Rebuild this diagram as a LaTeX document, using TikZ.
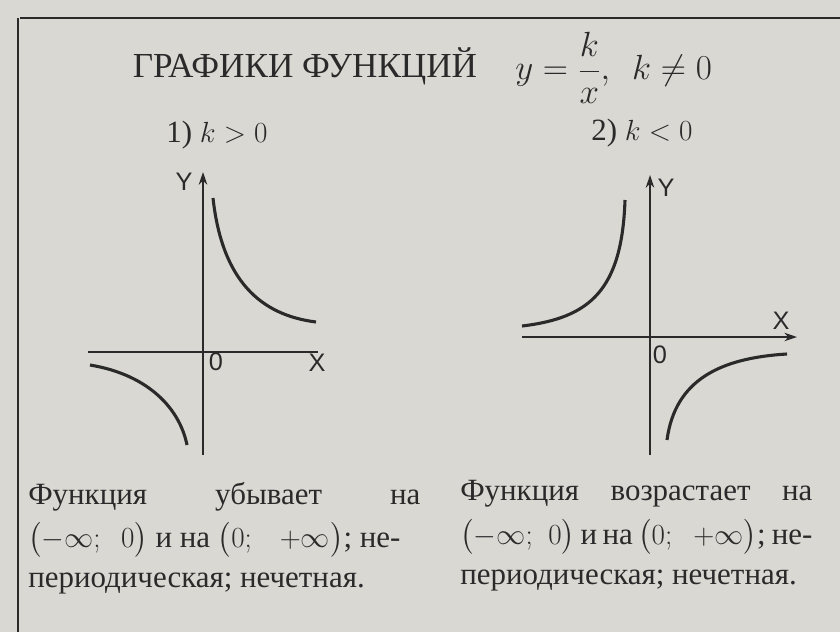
\documentclass[tikz,border=0pt]{standalone}
\usepackage{amsmath}
\usepackage{fontspec}
\setmainfont{Liberation Serif}
\setsansfont{Liberation Sans}
\usetikzlibrary{arrows.meta,positioning}
\definecolor{paper}{HTML}{D9D8D2}
\definecolor{ink}{HTML}{2A2A2A}
\tikzset{
  axis/.style={draw=ink, line width=1.1pt},
  branch/.style={draw=ink, line width=2.2pt},
  lbl/.style={text=ink, font=\sffamily\fontsize{18}{18}\selectfont, inner sep=0pt},
  para/.style={text=ink, font=\fontsize{22}{24}\selectfont, inner sep=0pt, anchor=west, text width=9.8cm, align=justify}
}
\begin{document}
\begin{tikzpicture}[x=0.025cm, y=-0.025cm, >={Stealth[length=9pt,width=6pt]}]
  \fill[paper] (0,0) rectangle (840,632);
  \useasboundingbox (0,0) rectangle (840,632);
  % page frame
  \draw[ink, line width=0.8pt] (20,18) -- (840,18);
  \draw[ink, line width=0.8pt] (18,18) -- (18,632);

  % Title
  \node[text=ink, font=\fontsize{25}{25}\selectfont, inner sep=0pt] (title) at (305,66) {ГРАФИКИ ФУНКЦИЙ};
  \node[text=ink, font=\fontsize{23}{23}\selectfont, inner sep=0pt, anchor=west] (formula) at (515,68) {$y=\dfrac{k}{x},\ \ k\neq 0$};

  % Case labels
  \node[text=ink, font=\fontsize{22}{22}\selectfont, inner sep=0pt] (case1) at (217,135) {1) $k>0$};
  \node[text=ink, font=\fontsize{22}{22}\selectfont, inner sep=0pt] (case2) at (642,133) {2) $k<0$};

  % Graph 1
  \coordinate (ya1) at (203,455);
  \coordinate (yb1) at (203,172);
  \coordinate (xa1) at (88,352);
  \coordinate (xb1) at (318,352);
  \draw[axis, ->] (ya1) -- (yb1);
  \draw[axis] (xa1) -- (xb1);
  \node[lbl] (y1) at (184,182) {Y};
  \node[lbl] (o1) at (216,362) {0};
  \node[lbl] (x1) at (317,363) {X};
  \draw[branch] (213,198) .. controls (222,280) and (260,315) .. (316,322);
  \draw[branch] (90,365) .. controls (150,375) and (180,410) .. (187,445);

  % Graph 2
  \coordinate (ya2) at (650,455);
  \coordinate (yb2) at (650,175);
  \coordinate (xa2) at (522,337);
  \coordinate (xb2) at (797,337);
  \draw[axis, ->] (ya2) -- (yb2);
  \draw[axis, ->] (xa2) -- (xb2);
  \node[lbl] (y2) at (666,188) {Y};
  \node[lbl] (o2) at (660,355) {0};
  \node[lbl] (x2) at (781,321) {X};
  \draw[branch] (522,326) .. controls (590,318) and (622,290) .. (625,200);
  \draw[branch] (667,440) .. controls (675,380) and (720,358) .. (787,354);

  % Left text
  \node[para] (l1) at (28,497) {Функция \hfill убывает \hfill на};
  \node[para] (l2) at (28,540) {$\bigl(-\infty;\ \ 0\bigr)$ и на $\bigl(0;\ \ \ +\infty\bigr)$; не-};
  \node[para] (l3) at (28,583) {периодическая; нечетная.};

  % Right text
  \node[para, text width=8.8cm] (r1) at (460,494) {Функция \hfill возрастает \hfill на};
  \node[para, text width=8.8cm] (r2) at (460,537) {$\bigl(-\infty;\ \ 0\bigr)$ и на $\bigl(0;\ \ \ +\infty\bigr)$; не-};
  \node[para, text width=8.8cm] (r3) at (460,580) {периодическая; нечетная.};
\end{tikzpicture}
\end{document}
